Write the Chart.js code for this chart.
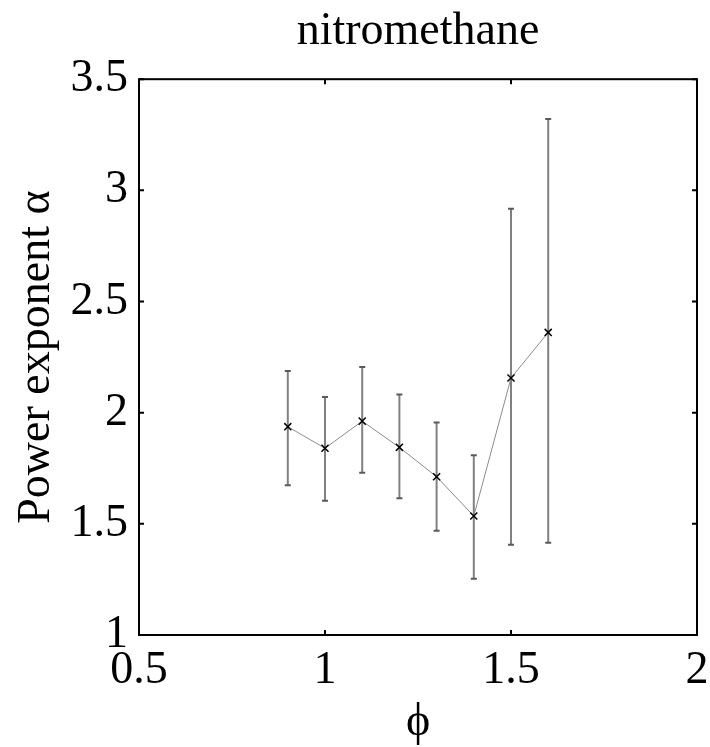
<!DOCTYPE html>
<html>
<head>
<meta charset="utf-8">
<script src="https://cdn.jsdelivr.net/npm/chart.js@4/dist/chart.umd.min.js"></script>
<style>
html,body{margin:0;padding:0;background:#fff;}
#wrap{width:710px;height:747px;}
</style>
</head>
<body>
<div id="wrap"><canvas id="c" width="710" height="747"></canvas></div>
<script>
// ---- data ----
const phi = [0.9, 1.0, 1.1, 1.2, 1.3, 1.4, 1.5, 1.6];
const alpha = [1.937, 1.840, 1.962, 1.844, 1.712, 1.535, 2.156, 2.361];
const alphaUpper = [2.187, 2.070, 2.206, 2.082, 1.956, 1.809, 2.917, 3.321];
const alphaLower = [1.674, 1.604, 1.730, 1.615, 1.469, 1.253, 1.406, 1.415];
const xTicks = [0.5, 1, 1.5, 2];
const yTicks = [1, 1.5, 2, 2.5, 3, 3.5];
const titleText = 'nitromethane';
const xLabel = 'ϕ';
const yLabel = 'Power exponent α';

const FONT = '"Liberation Serif", "Times New Roman", serif';

const errorBars = {
  id: 'errorBars',
  beforeDatasetsDraw(chart) {
    const {ctx, scales: {x, y}} = chart;
    ctx.save();
    for (let i = 0; i < phi.length; i++) {
      const px = x.getPixelForValue(phi[i]);
      const pu = y.getPixelForValue(alphaUpper[i]);
      const pl = y.getPixelForValue(alphaLower[i]);
      ctx.strokeStyle = '#808080';
      ctx.lineWidth = 2;
      ctx.beginPath();
      ctx.moveTo(px, pu);
      ctx.lineTo(px, pl);
      ctx.stroke();
      ctx.strokeStyle = '#5a5a5a';
      ctx.beginPath();
      ctx.moveTo(px - 3, pu); ctx.lineTo(px + 3, pu);
      ctx.moveTo(px - 3, pl); ctx.lineTo(px + 3, pl);
      ctx.stroke();
    }
    ctx.restore();
  }
};

const frame = {
  id: 'frame',
  afterDraw(chart) {
    const {ctx, chartArea: a, scales: {x, y}} = chart;
    ctx.save();
    ctx.strokeStyle = '#000';
    ctx.lineWidth = 2;
    ctx.strokeRect(a.left, a.top, a.right - a.left, a.bottom - a.top);
    const tl = 5;
    ctx.beginPath();
    xTicks.forEach(v => {
      const px = x.getPixelForValue(v);
      ctx.moveTo(px, a.bottom); ctx.lineTo(px, a.bottom - tl);
      ctx.moveTo(px, a.top); ctx.lineTo(px, a.top + tl);
    });
    yTicks.forEach(v => {
      const py = y.getPixelForValue(v);
      ctx.moveTo(a.left, py); ctx.lineTo(a.left + tl, py);
      ctx.moveTo(a.right, py); ctx.lineTo(a.right - tl, py);
    });
    ctx.stroke();
    ctx.restore();
  }
};

new Chart(document.getElementById('c'), {
  type: 'line',
  data: {
    datasets: [{
      data: phi.map((v, i) => ({x: v, y: alpha[i]})),
      borderColor: '#8c8c8c',
      borderWidth: 1,
      pointStyle: 'crossRot',
      pointRadius: 5,
      pointBorderColor: '#000',
      pointBorderWidth: 1.5,
      pointBackgroundColor: '#000',
      tension: 0
    }]
  },
  options: {
    responsive: false,
    animation: false,
    devicePixelRatio: 1,
    layout: {padding: {left: 0, right: 13, top: 0, bottom: 0}},
    plugins: {
      legend: {display: false},
      tooltip: {enabled: false},
      title: {
        display: true,
        text: titleText,
        color: '#000',
        fullSize: false,
        font: {family: FONT, size: 46, weight: 'normal', lineHeight: 1.2},
        padding: {top: 4, bottom: 20}
      }
    },
    scales: {
      x: {
        type: 'linear',
        min: 0.5, max: 2,
        afterBuildTicks(s) { s.ticks = xTicks.map(v => ({value: v})); },
        afterFit(s) { s.height = 112; s.paddingRight = 0; s.paddingLeft = 0; },
        grid: {display: false, drawTicks: false},
        border: {display: false},
        ticks: {
          color: '#000',
          padding: 8,
          maxRotation: 0,
          autoSkip: false,
          font: {family: FONT, size: 46},
          callback: v => String(v)
        },
        title: {
          display: true,
          text: xLabel,
          color: '#000',
          font: {family: FONT, size: 46, lineHeight: 1.0},
          padding: {top: 0, bottom: 1}
        }
      },
      y: {
        type: 'linear',
        min: 1, max: 3.5,
        afterBuildTicks(s) { s.ticks = yTicks.map(v => ({value: v})); },
        afterFit(s) { s.width = 139; },
        grid: {display: false, drawTicks: false},
        border: {display: false},
        ticks: {
          color: '#000',
          padding: 11,
          autoSkip: false,
          font: {family: FONT, size: 46},
          callback: v => String(v)
        },
        title: {
          display: true,
          text: yLabel,
          color: '#000',
          font: {family: FONT, size: 46, lineHeight: 1.0},
          padding: {top: 14, bottom: 0}
        }
      }
    }
  },
  plugins: [errorBars, frame]
});
</script>
</body>
</html>
